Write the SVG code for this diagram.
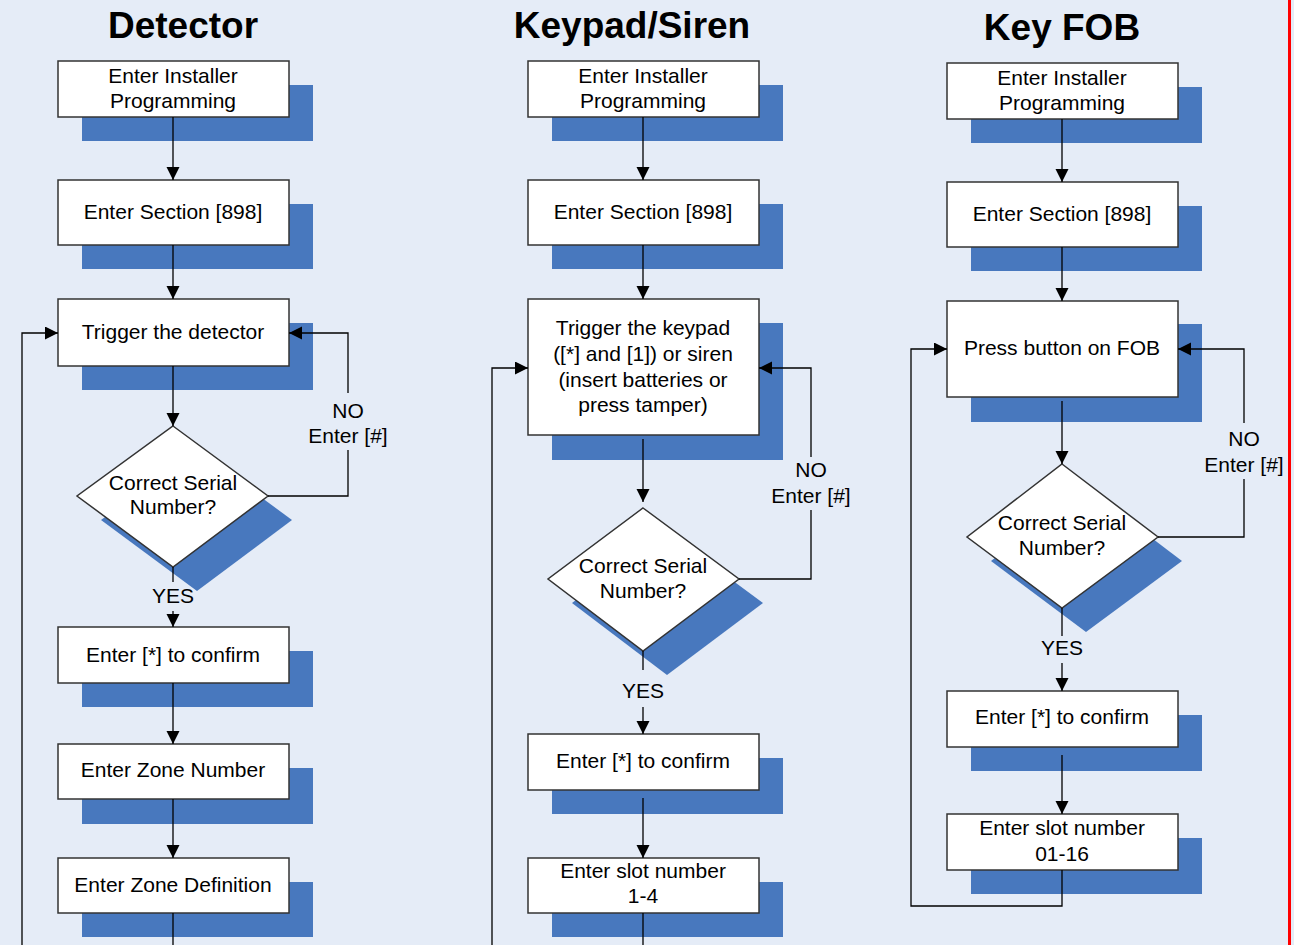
<svg xmlns="http://www.w3.org/2000/svg" width="1294" height="945" viewBox="0 0 1294 945">
<style>
.t{font-family:"Liberation Sans",Arial,sans-serif;font-size:21px;fill:#000;text-anchor:middle}
.h{font-family:"Liberation Sans",Arial,sans-serif;font-size:37px;font-weight:bold;fill:#000;text-anchor:middle}
.box{fill:#fff;stroke:#333;stroke-width:1.5}
.sh{fill:#4878BE}
.c{fill:none;stroke:#000;stroke-width:1.3}
</style>
<defs>
<marker id="a" markerUnits="userSpaceOnUse" markerWidth="14" markerHeight="14" refX="13" refY="6.5" orient="auto"><path d="M0,0 L13,6.5 L0,13 z" fill="#000"/></marker>
</defs>
<rect x="0" y="0" width="1294" height="945" fill="#E5ECF7"/>
<line x1="1289.5" y1="0" x2="1289.5" y2="945" stroke="#FF0000" stroke-width="3"/>

<g id="titles">
<text class="h" x="183" y="38">Detector</text>
<text class="h" x="632" y="38">Keypad/Siren</text>
<text class="h" x="1062" y="40">Key FOB</text>
</g>

<!-- Detector column -->
<g id="d1"><rect class="sh" x="82" y="85" width="231" height="56"/><rect class="box" x="58" y="61" width="231" height="56"/><text class="t" x="173" y="83">Enter Installer</text><text class="t" x="173" y="108">Programming</text></g>
<g id="d2"><rect class="sh" x="82" y="204" width="231" height="65"/><rect class="box" x="58" y="180" width="231" height="65"/><text class="t" x="173" y="219">Enter Section [898]</text></g>
<g id="d3"><rect class="sh" x="82" y="323" width="231" height="67"/><rect class="box" x="58" y="299" width="231" height="67"/><text class="t" x="173" y="339">Trigger the detector</text></g>
<g id="d4"><polygon class="sh" points="197,450 292,520 197,591 101,520"/><polygon class="box" points="173,426 268,496 173,567 77,496"/><text class="t" x="173" y="490">Correct Serial</text><text class="t" x="173" y="514">Number?</text></g>
<g id="d5"><rect class="sh" x="82" y="651" width="231" height="56"/><rect class="box" x="58" y="627" width="231" height="56"/><text class="t" x="173" y="662">Enter [*] to confirm</text></g>
<g id="d6"><rect class="sh" x="82" y="768" width="231" height="56"/><rect class="box" x="58" y="744" width="231" height="55"/><text class="t" x="173" y="777">Enter Zone Number</text></g>
<g id="d7"><rect class="sh" x="82" y="882" width="231" height="55"/><rect class="box" x="58" y="858" width="231" height="55"/><text class="t" x="173" y="892">Enter Zone Definition</text></g>

<!-- Keypad column -->
<g id="k1"><rect class="sh" x="552" y="85" width="231" height="56"/><rect class="box" x="528" y="61" width="231" height="56"/><text class="t" x="643" y="83">Enter Installer</text><text class="t" x="643" y="108">Programming</text></g>
<g id="k2"><rect class="sh" x="552" y="204" width="231" height="65"/><rect class="box" x="528" y="180" width="231" height="65"/><text class="t" x="643" y="219">Enter Section [898]</text></g>
<g id="k3"><rect class="sh" x="552" y="323" width="231" height="137"/><rect class="box" x="528" y="299" width="231" height="136"/><text class="t" x="643" y="335">Trigger the keypad</text><text class="t" x="643" y="361">([*] and [1]) or siren</text><text class="t" x="643" y="387">(insert batteries or</text><text class="t" x="643" y="412">press tamper)</text></g>
<g id="k4"><polygon class="sh" points="667,532 763,603 667,675 572,603"/><polygon class="box" points="643,508 739,579 643,651 548,579"/><text class="t" x="643" y="573">Correct Serial</text><text class="t" x="643" y="598">Number?</text></g>
<g id="k5"><rect class="sh" x="552" y="758" width="231" height="56"/><rect class="box" x="528" y="734" width="231" height="56"/><text class="t" x="643" y="768">Enter [*] to confirm</text></g>
<g id="k6"><rect class="sh" x="552" y="882" width="231" height="55"/><rect class="box" x="528" y="858" width="231" height="55"/><text class="t" x="643" y="878">Enter slot number</text><text class="t" x="643" y="903">1-4</text></g>

<!-- Key FOB column -->
<g id="f1"><rect class="sh" x="971" y="87" width="231" height="56"/><rect class="box" x="947" y="63" width="231" height="56"/><text class="t" x="1062" y="85">Enter Installer</text><text class="t" x="1062" y="110">Programming</text></g>
<g id="f2"><rect class="sh" x="971" y="206" width="231" height="65"/><rect class="box" x="947" y="182" width="231" height="65"/><text class="t" x="1062" y="221">Enter Section [898]</text></g>
<g id="f3"><rect class="sh" x="971" y="324" width="231" height="98"/><rect class="box" x="947" y="301" width="231" height="96"/><text class="t" x="1062" y="355">Press button on FOB</text></g>
<g id="f4"><polygon class="sh" points="1086,488 1182,561 1086,632 991,561"/><polygon class="box" points="1062,464 1158,537 1062,608 967,537"/><text class="t" x="1062" y="530">Correct Serial</text><text class="t" x="1062" y="555">Number?</text></g>
<g id="f5"><rect class="sh" x="971" y="715" width="231" height="56"/><rect class="box" x="947" y="691" width="231" height="56"/><text class="t" x="1062" y="724">Enter [*] to confirm</text></g>
<g id="f6"><rect class="sh" x="971" y="838" width="231" height="56"/><rect class="box" x="947" y="814" width="231" height="56"/><text class="t" x="1062" y="835">Enter slot number</text><text class="t" x="1062" y="861">01-16</text></g>

<g id="connectors">
<!-- Detector -->
<line class="c" x1="173" y1="117" x2="173" y2="180" marker-end="url(#a)"/>
<line class="c" x1="173" y1="245" x2="173" y2="299" marker-end="url(#a)"/>
<line class="c" x1="173" y1="366" x2="173" y2="426" marker-end="url(#a)"/>
<line class="c" x1="173" y1="567" x2="173" y2="582"/>
<line class="c" x1="173" y1="611" x2="173" y2="627" marker-end="url(#a)"/>
<line class="c" x1="173" y1="683" x2="173" y2="744" marker-end="url(#a)"/>
<line class="c" x1="173" y1="799" x2="173" y2="858" marker-end="url(#a)"/>
<line class="c" x1="173" y1="913" x2="173" y2="945"/>
<polyline class="c" points="268,496 348,496 348,450"/>
<polyline class="c" points="348,393 348,333 289,333" marker-end="url(#a)"/>
<polyline class="c" points="22,945 22,333 58,333" marker-end="url(#a)"/>
<!-- Keypad -->
<line class="c" x1="643" y1="117" x2="643" y2="180" marker-end="url(#a)"/>
<line class="c" x1="643" y1="245" x2="643" y2="299" marker-end="url(#a)"/>
<line class="c" x1="643" y1="439" x2="643" y2="502" marker-end="url(#a)"/>
<line class="c" x1="643" y1="651" x2="643" y2="670"/>
<line class="c" x1="643" y1="707" x2="643" y2="734" marker-end="url(#a)"/>
<line class="c" x1="643" y1="798" x2="643" y2="858" marker-end="url(#a)"/>
<line class="c" x1="643" y1="913" x2="643" y2="945"/>
<polyline class="c" points="739,579 811,579 811,510"/>
<polyline class="c" points="811,457 811,368 759,368" marker-end="url(#a)"/>
<polyline class="c" points="492,945 492,368 528,368" marker-end="url(#a)"/>
<!-- Key FOB -->
<line class="c" x1="1062" y1="119" x2="1062" y2="182" marker-end="url(#a)"/>
<line class="c" x1="1062" y1="247" x2="1062" y2="301" marker-end="url(#a)"/>
<line class="c" x1="1062" y1="401" x2="1062" y2="464" marker-end="url(#a)"/>
<line class="c" x1="1062" y1="608" x2="1062" y2="636"/>
<line class="c" x1="1062" y1="663" x2="1062" y2="691" marker-end="url(#a)"/>
<line class="c" x1="1062" y1="755" x2="1062" y2="814" marker-end="url(#a)"/>
<polyline class="c" points="1158,537 1244,537 1244,479"/>
<polyline class="c" points="1244,423 1244,349 1178,349" marker-end="url(#a)"/>
<polyline class="c" points="1062,870 1062,906 911,906 911,349 947,349" marker-end="url(#a)"/>
</g>

<g id="labels">
<text class="t" x="348" y="418">NO</text><text class="t" x="348" y="443">Enter [#]</text>
<text class="t" x="173" y="603">YES</text>
<text class="t" x="811" y="477">NO</text><text class="t" x="811" y="503">Enter [#]</text>
<text class="t" x="643" y="698">YES</text>
<text class="t" x="1244" y="446">NO</text><text class="t" x="1244" y="472">Enter [#]</text>
<text class="t" x="1062" y="655">YES</text>
</g>
</svg>
